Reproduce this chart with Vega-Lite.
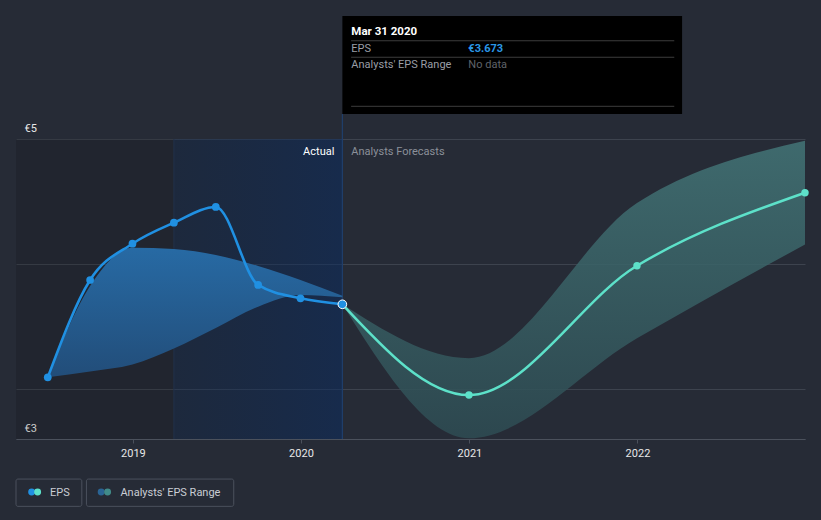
{
  "$schema": "https://vega.github.io/schema/vega-lite/v6.json",
  "width": 789,
  "height": 300,
  "autosize": {"type": "none"},
  "padding": {"left": 16, "top": 139, "right": 16, "bottom": 81},
  "background": "#262b36",
  "config": {"view": {"stroke": null}, "font": "Roboto", "text": {"font": "Roboto"}},
  "datasets": {
    "actual": [
      {"date": "2018-06-30", "eps": 3.411},
      {"date": "2018-09-30", "eps": 4.06},
      {"date": "2018-12-31", "eps": 4.302},
      {"date": "2019-03-31", "eps": 4.442},
      {"date": "2019-06-30", "eps": 4.547},
      {"date": "2019-09-30", "eps": 4.027},
      {"date": "2019-12-31", "eps": 3.938},
      {"date": "2020-03-31", "eps": 3.898}
    ],
    "latest": [
      {"date": "2020-03-31", "eps": 3.898}
    ],
    "forecast": [
      {"date": "2020-03-31", "eps": 3.898},
      {"date": "2020-12-31", "eps": 3.293},
      {"date": "2021-12-31", "eps": 4.155},
      {"date": "2022-12-31", "eps": 4.642}
    ],
    "forecastRange": [
      {"date": "2020-03-31", "low": 3.898, "high": 3.898},
      {"date": "2020-12-31", "low": 3.005, "high": 3.539},
      {"date": "2021-12-31", "low": 3.671, "high": 4.573},
      {"date": "2022-12-31", "low": 4.297, "high": 4.988}
    ],
    "pastRange": [
      {"date": "2018-06-30", "low": 3.411, "high": 3.411},
      {"date": "2018-09-30", "low": 3.45, "high": 4.02},
      {"date": "2018-12-31", "low": 3.496, "high": 4.275},
      {"date": "2019-03-31", "low": 3.603, "high": 4.267},
      {"date": "2019-06-30", "low": 3.74, "high": 4.227},
      {"date": "2019-09-30", "low": 3.882, "high": 4.153},
      {"date": "2019-12-31", "low": 3.96, "high": 4.06},
      {"date": "2020-03-31", "low": 3.945, "high": 3.955}
    ]
  },
  "layer": [
    {
      "data": {"values": [{}]},
      "mark": {"type": "rect", "color": "#000000", "opacity": 0.13},
      "encoding": {
        "x": {
          "datum": {"year": 2018, "month": 4, "date": 22, "utc": true},
          "type": "temporal",
          "title": null,
          "scale": {
            "type": "utc",
            "domain": [
              {"year": 2018, "month": 4, "date": 22, "utc": true},
              {"year": 2022, "month": 12, "date": 31, "utc": true}
            ]
          },
          "axis": {
            "title": null,
            "values": [
              {"year": 2019, "month": 1, "date": 1, "utc": true},
              {"year": 2020, "month": 1, "date": 1, "utc": true},
              {"year": 2021, "month": 1, "date": 1, "utc": true},
              {"year": 2022, "month": 1, "date": 1, "utc": true}
            ],
            "format": "%Y",
            "formatType": "utc",
            "grid": false,
            "domainColor": "#4b515c",
            "tickColor": "#4b515c",
            "tickSize": 4,
            "labelColor": "#e8e8e8",
            "labelFontSize": 11,
            "labelFont": "Roboto",
            "labelPadding": 4,
            "labelFlush": false,
            "zindex": 1
          }
        },
        "x2": {"datum": {"year": 2019, "month": 3, "date": 31, "utc": true}},
        "y": {
          "datum": 3,
          "type": "quantitative",
          "title": null,
          "scale": {"domain": [3, 5], "nice": false, "zero": false},
          "axis": {
            "title": null,
            "values": [3, 3.3333, 4.1667, 5],
            "labelExpr": "datum.value == 5 ? '€5' : (datum.value == 3 ? '€3' : '')",
            "grid": true,
            "gridColor": "#3d434e",
            "gridWidth": 1,
            "domain": false,
            "ticks": false,
            "tickSize": 0,
            "labelAlign": "left",
            "labelBaseline": "alphabetic",
            "labelPadding": -8,
            "labelOffset": -8,
            "labelColor": "#e8e8e8",
            "labelFontSize": 11,
            "labelFont": "Roboto",
            "zindex": 0
          }
        },
        "y2": {"datum": 5}
      }
    },
    {
      "data": {"values": [{}]},
      "mark": {
        "type": "rect",
        "color": {
          "gradient": "linear",
          "x1": 0, "y1": 0, "x2": 1, "y2": 0,
          "stops": [
            {"offset": 0, "color": "rgba(8,36,77,0.3)"},
            {"offset": 1, "color": "rgba(8,43,98,0.5)"}
          ]
        }
      },
      "encoding": {
        "x": {"datum": {"year": 2019, "month": 3, "date": 31, "utc": true}, "type": "temporal", "title": null},
        "x2": {"datum": {"year": 2020, "month": 3, "date": 31, "utc": true}},
        "y": {"datum": 3, "type": "quantitative", "title": null},
        "y2": {"datum": 5}
      }
    },
    {
      "data": {"values": [{}]},
      "mark": {"type": "rule", "color": "#22324b", "strokeWidth": 1},
      "encoding": {
        "x": {"datum": {"year": 2019, "month": 3, "date": 31, "utc": true}, "type": "temporal", "title": null},
        "y": {"datum": 3, "type": "quantitative", "title": null},
        "y2": {"datum": 5}
      }
    },
    {
      "data": {"values": [{}]},
      "mark": {"type": "rule", "color": "#1f3f6c", "strokeWidth": 1.2},
      "encoding": {
        "x": {"datum": {"year": 2020, "month": 3, "date": 31, "utc": true}, "type": "temporal", "title": null},
        "y": {"datum": 3, "type": "quantitative", "title": null},
        "y2": {"datum": 5.1667}
      }
    },
    {
      "data": {"name": "forecastRange"},
      "mark": {
        "type": "area",
        "interpolate": "monotone",
        "opacity": 0.85,
        "color": {
          "gradient": "linear",
          "x1": 0, "y1": 0, "x2": 0, "y2": 1,
          "stops": [
            {"offset": 0, "color": "#437577"},
            {"offset": 1, "color": "#2e4c53"}
          ]
        }
      },
      "encoding": {
        "x": {"field": "date", "type": "temporal", "title": null},
        "y": {"field": "low", "type": "quantitative", "title": null},
        "y2": {"field": "high", "title": null}
      }
    },
    {
      "data": {"name": "pastRange"},
      "mark": {
        "type": "area",
        "interpolate": "monotone",
        "color": {
          "gradient": "linear",
          "x1": 0, "y1": 0, "x2": 0, "y2": 1,
          "stops": [
            {"offset": 0, "color": "#276aa4"},
            {"offset": 1, "color": "#224d79"}
          ]
        }
      },
      "encoding": {
        "x": {"field": "date", "type": "temporal", "title": null},
        "y": {"field": "low", "type": "quantitative", "title": null},
        "y2": {"field": "high", "title": null}
      }
    },
    {
      "data": {"name": "forecast"},
      "mark": {
        "type": "line",
        "interpolate": "monotone",
        "color": "#5de1c9",
        "strokeWidth": 2.5,
        "point": {"filled": true, "size": 55, "color": "#5de1c9"}
      },
      "encoding": {
        "x": {"field": "date", "type": "temporal", "title": null},
        "y": {"field": "eps", "type": "quantitative", "title": null}
      }
    },
    {
      "data": {"name": "actual"},
      "mark": {
        "type": "line",
        "interpolate": "monotone",
        "color": "#2090e2",
        "strokeWidth": 2.6,
        "point": {"filled": true, "size": 60, "color": "#2090e2"}
      },
      "encoding": {
        "x": {"field": "date", "type": "temporal", "title": null},
        "y": {"field": "eps", "type": "quantitative", "title": null}
      }
    },
    {
      "data": {"name": "latest"},
      "mark": {"type": "point", "filled": true, "fill": "#2090e2", "stroke": "#ffffff", "strokeWidth": 1, "size": 75, "opacity": 1},
      "encoding": {
        "x": {"field": "date", "type": "temporal", "title": null},
        "y": {"field": "eps", "type": "quantitative", "title": null}
      }
    },
    {
      "data": {"values": [{}]},
      "mark": {"type": "text", "text": "Actual", "align": "right", "baseline": "alphabetic", "dx": -8, "fontSize": 11, "color": "#ffffff"},
      "encoding": {
        "x": {"datum": {"year": 2020, "month": 3, "date": 31, "utc": true}, "type": "temporal", "title": null},
        "y": {"datum": 4.893, "type": "quantitative", "title": null}
      }
    },
    {
      "data": {"values": [{}]},
      "mark": {"type": "text", "text": "Analysts Forecasts", "align": "left", "baseline": "alphabetic", "dx": 9, "fontSize": 11, "color": "#8b9099"},
      "encoding": {
        "x": {"datum": {"year": 2020, "month": 3, "date": 31, "utc": true}, "type": "temporal", "title": null},
        "y": {"datum": 4.893, "type": "quantitative", "title": null}
      }
    },
    {
      "data": {"values": [{}]},
      "mark": {"type": "rect", "color": "#000000"},
      "encoding": {
        "x": {"datum": {"year": 2020, "month": 3, "date": 31, "utc": true}, "type": "temporal", "title": null},
        "x2": {"datum": {"year": 2022, "month": 4, "date": 8, "utc": true}},
        "y": {"datum": 5.1667, "type": "quantitative", "title": null},
        "y2": {"datum": 5.82}
      }
    },
    {
      "data": {"values": [{"pos": 5.655}, {"pos": 5.545}, {"pos": 5.218}]},
      "mark": {"type": "rule", "color": "#3c3c3c", "strokeWidth": 1},
      "encoding": {
        "x": {"datum": {"year": 2020, "month": 4, "date": 19, "utc": true}, "type": "temporal", "title": null},
        "x2": {"datum": {"year": 2022, "month": 3, "date": 22, "utc": true}},
        "y": {"field": "pos", "type": "quantitative", "title": null}
      }
    },
    {
      "data": {"values": [{}]},
      "mark": {"type": "text", "text": "Mar 31 2020", "align": "left", "baseline": "alphabetic", "dx": 9, "fontSize": 11.5, "fontWeight": "bold", "color": "#ffffff"},
      "encoding": {
        "x": {"datum": {"year": 2020, "month": 3, "date": 31, "utc": true}, "type": "temporal", "title": null},
        "y": {"datum": 5.695, "type": "quantitative", "title": null}
      }
    },
    {
      "data": {"values": [{}]},
      "mark": {"type": "text", "text": "EPS", "align": "left", "baseline": "alphabetic", "dx": 9, "fontSize": 11, "color": "#9a9ea6"},
      "encoding": {
        "x": {"datum": {"year": 2020, "month": 3, "date": 31, "utc": true}, "type": "temporal", "title": null},
        "y": {"datum": 5.582, "type": "quantitative", "title": null}
      }
    },
    {
      "data": {"values": [{}]},
      "mark": {"type": "text", "text": "€3.673", "align": "left", "baseline": "alphabetic", "dx": 126, "fontSize": 11, "fontWeight": "bold", "color": "#2a97e6"},
      "encoding": {
        "x": {"datum": {"year": 2020, "month": 3, "date": 31, "utc": true}, "type": "temporal", "title": null},
        "y": {"datum": 5.582, "type": "quantitative", "title": null}
      }
    },
    {
      "data": {"values": [{}]},
      "mark": {"type": "text", "text": "Analysts' EPS Range", "align": "left", "baseline": "alphabetic", "dx": 9, "fontSize": 11, "color": "#9a9ea6"},
      "encoding": {
        "x": {"datum": {"year": 2020, "month": 3, "date": 31, "utc": true}, "type": "temporal", "title": null},
        "y": {"datum": 5.471, "type": "quantitative", "title": null}
      }
    },
    {
      "data": {"values": [{}]},
      "mark": {"type": "text", "text": "No data", "align": "left", "baseline": "alphabetic", "dx": 126, "fontSize": 11, "color": "#5f636a"},
      "encoding": {
        "x": {"datum": {"year": 2020, "month": 3, "date": 31, "utc": true}, "type": "temporal", "title": null},
        "y": {"datum": 5.471, "type": "quantitative", "title": null}
      }
    },
    {
      "data": {"values": [{}]},
      "mark": {"type": "rect", "fill": null, "fillOpacity": 0, "stroke": "#4b515d", "strokeWidth": 1, "cornerRadius": 2},
      "encoding": {
        "x": {"datum": {"year": 2018, "month": 4, "date": 22, "utc": true}, "type": "temporal", "title": null},
        "x2": {"datum": {"year": 2018, "month": 9, "date": 12, "utc": true}},
        "y": {"datum": 2.733, "type": "quantitative", "title": null},
        "y2": {"datum": 2.551}
      }
    },
    {
      "data": {"values": [{}]},
      "mark": {"type": "rect", "fill": null, "fillOpacity": 0, "stroke": "#4b515d", "strokeWidth": 1, "cornerRadius": 2},
      "encoding": {
        "x": {"datum": {"year": 2018, "month": 9, "date": 22, "utc": true}, "type": "temporal", "title": null},
        "x2": {"datum": {"year": 2019, "month": 8, "date": 8, "utc": true}},
        "y": {"datum": 2.733, "type": "quantitative", "title": null},
        "y2": {"datum": 2.551}
      }
    },
    {
      "data": {"values": [{}]},
      "mark": {"type": "point", "filled": true, "size": 48, "color": "#2090e2", "opacity": 1},
      "encoding": {
        "x": {"datum": {"year": 2018, "month": 5, "date": 26, "utc": true}, "type": "temporal", "title": null},
        "y": {"datum": 2.6467, "type": "quantitative", "title": null}
      }
    },
    {
      "data": {"values": [{}]},
      "mark": {"type": "point", "filled": true, "size": 48, "color": "#5de1c9", "opacity": 1},
      "encoding": {
        "x": {"datum": {"year": 2018, "month": 6, "date": 8, "utc": true}, "type": "temporal", "title": null},
        "y": {"datum": 2.6467, "type": "quantitative", "title": null}
      }
    },
    {
      "data": {"values": [{}]},
      "mark": {"type": "point", "filled": true, "size": 48, "color": "#2a6494", "opacity": 1},
      "encoding": {
        "x": {"datum": {"year": 2018, "month": 10, "date": 24, "utc": true}, "type": "temporal", "title": null},
        "y": {"datum": 2.6467, "type": "quantitative", "title": null}
      }
    },
    {
      "data": {"values": [{}]},
      "mark": {"type": "point", "filled": true, "size": 48, "color": "#418b89", "opacity": 1},
      "encoding": {
        "x": {"datum": {"year": 2018, "month": 11, "date": 7, "utc": true}, "type": "temporal", "title": null},
        "y": {"datum": 2.6467, "type": "quantitative", "title": null}
      }
    },
    {
      "data": {"values": [{}]},
      "mark": {"type": "text", "text": "EPS", "align": "left", "baseline": "alphabetic", "dx": 34, "fontSize": 11, "color": "#c9cdd4"},
      "encoding": {
        "x": {"datum": {"year": 2018, "month": 4, "date": 22, "utc": true}, "type": "temporal", "title": null},
        "y": {"datum": 2.622, "type": "quantitative", "title": null}
      }
    },
    {
      "data": {"values": [{}]},
      "mark": {"type": "text", "text": "Analysts' EPS Range", "align": "left", "baseline": "alphabetic", "dx": 34, "fontSize": 11, "color": "#c9cdd4"},
      "encoding": {
        "x": {"datum": {"year": 2018, "month": 9, "date": 22, "utc": true}, "type": "temporal", "title": null},
        "y": {"datum": 2.622, "type": "quantitative", "title": null}
      }
    }
  ]
}
